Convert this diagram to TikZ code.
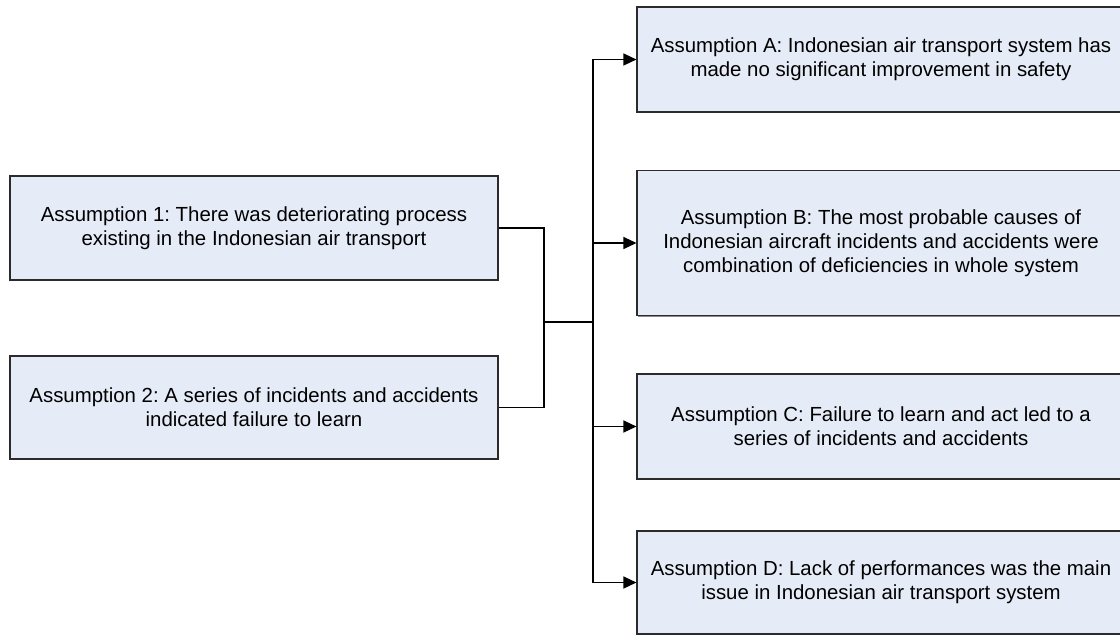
\documentclass[tikz,border=0pt]{standalone}
\usepackage{fontspec}
\setmainfont{Liberation Sans}
\usepackage{tikz}
\usetikzlibrary{arrows.meta,positioning,shadows}
\definecolor{BoxFill}{HTML}{E6ECF7}
\definecolor{BoxLine}{HTML}{2B2B2B}
\definecolor{ShadowGray}{HTML}{8A8A8A}
\frenchspacing
\tikzset{
  asm/.style={rectangle,draw=BoxLine,fill=BoxFill,line width=1.1pt,
              minimum width=488pt,minimum height=104pt,
              align=center,inner sep=0pt,
              font=\fontsize{20.4}{23.8}\selectfont,
              drop shadow={shadow xshift=1.2pt,shadow yshift=-1.4pt,
                           fill=ShadowGray,opacity=1}},
  arr/.style={-{Triangle[length=13pt,width=12pt]},line width=1.3pt},
  lnk/.style={line width=1.3pt}
}

\begin{document}
\begin{tikzpicture}[x=1pt,y=-1pt]
  \useasboundingbox (0,0) rectangle (1120,635);
  \clip (0,0) rectangle (1120,635);

  % Left side
  \node[asm] (as1) at (254,228) {Assumption 1: There was deteriorating process\\existing in the Indonesian air transport};
  \node[asm,minimum height=103pt] (as2) at (254,407.5) {Assumption 2: A series of incidents and accidents\\indicated failure to learn};

  % Right side
  \node[asm,minimum height=105pt] (asA) at (881,59.5) {Assumption A: Indonesian air transport system has\\made no significant improvement in safety};
  \node[asm,minimum height=145pt] (asB) at (881,243) {Assumption B: The most probable causes of\\Indonesian aircraft incidents and accidents were\\combination of deficiencies in whole system};
  \node[asm,minimum height=105pt] (asC) at (881,426.5) {Assumption C: Failure to learn and act led to a\\series of incidents and accidents};
  \node[asm,minimum height=103pt] (asD) at (881,582.5) {Assumption D: Lack of performances was the main\\issue in Indonesian air transport system};

  \coordinate (join) at (544,322);
  \coordinate (trunk) at (593,322);

  \draw[lnk] (as1.east) -| (join) |- (as2.east);
  \draw[lnk] (join) -- (trunk);
  \foreach \n in {asA,asB,asC,asD}
    \draw[arr] (trunk) |- (\n.west);
\end{tikzpicture}
\end{document}
